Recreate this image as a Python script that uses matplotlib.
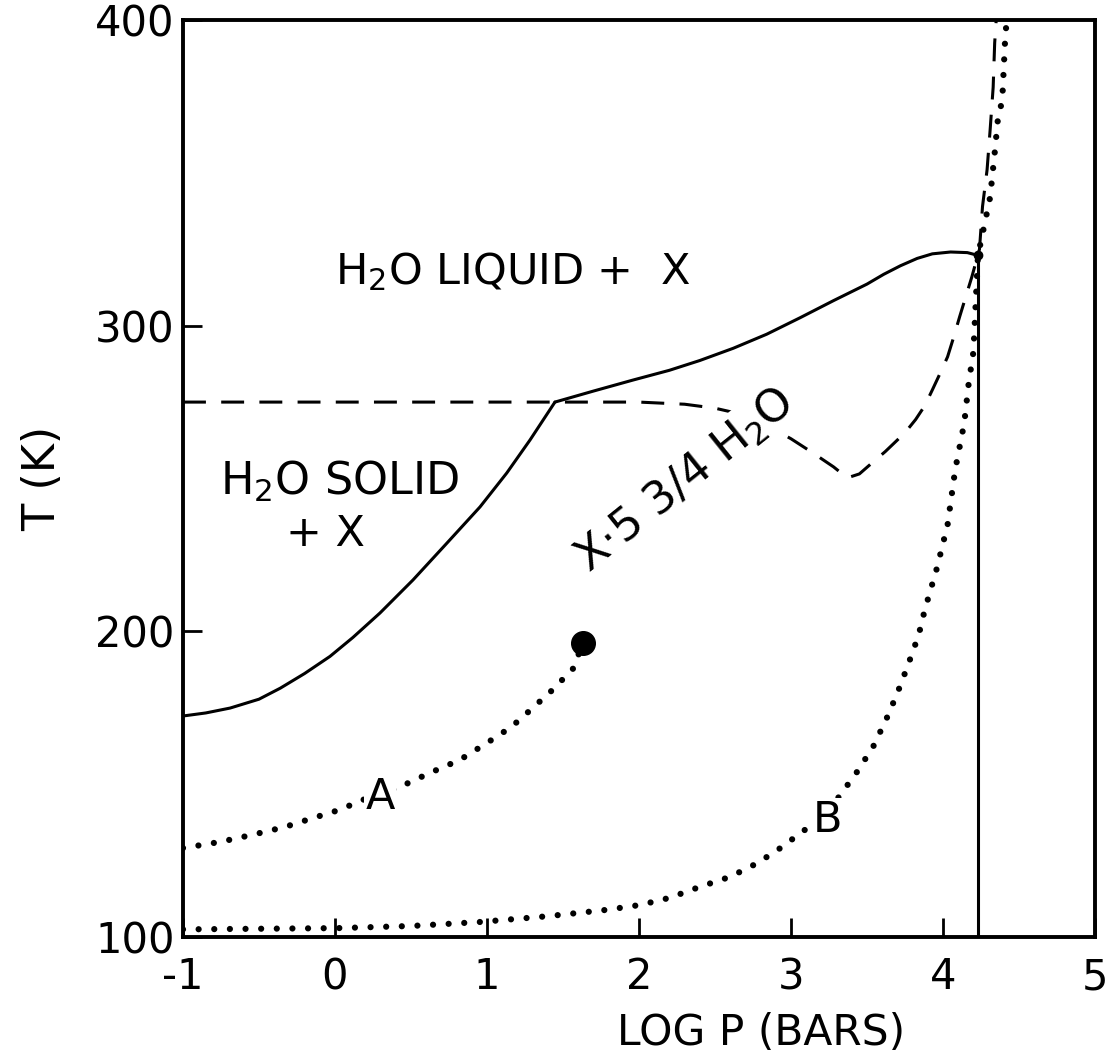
import matplotlib
matplotlib.use("Agg")
import matplotlib.pyplot as plt

plt.rcParams['font.family'] = ['DejaVu Sans']
plt.rcParams['mathtext.default'] = 'regular'

# ---- data (log P in bars, T in K) ----
ice_hydrate_P = [-1.0, -0.85, -0.69, -0.5, -0.36, -0.2, -0.033, 0.118, 0.296, 0.513, 0.737, 0.954, 1.13, 1.283, 1.447]
ice_hydrate_T = [172.3, 173.3, 174.9, 177.8, 181.4, 186.2, 191.8, 198.0, 206.0, 216.8, 228.9, 240.7, 251.8, 262.6, 275.0]

liquid_hydrate_P = [1.447, 1.70, 1.96, 2.20, 2.40, 2.62, 2.84, 3.06, 3.28, 3.50, 3.61, 3.72, 3.83, 3.93, 4.05, 4.16, 4.23]
liquid_hydrate_T = [275.0, 278.6, 282.2, 285.4, 288.6, 292.6, 297.2, 302.6, 308.2, 313.6, 316.8, 319.6, 322.0, 323.5, 324.1, 323.9, 323.0]

vertical_P = [4.23, 4.23]
vertical_T = [323.0, 100.0]

dashed_P = [-1.0, 2.0, 2.3, 2.5, 2.65, 2.8, 3.0, 3.14, 3.28, 3.37, 3.45, 3.54, 3.62, 3.70, 3.76, 3.82,
            3.88, 3.93, 3.98, 4.03, 4.07, 4.11, 4.15, 4.19, 4.24, 4.26, 4.29, 4.31, 4.33, 4.34, 4.35]
dashed_T = [275.0, 275.0, 274.3, 273.0, 271.3, 268.5, 263.0, 258.5, 253.8, 250.2, 251.5, 255.4, 258.8, 262.6, 265.6, 269.3,
            273.8, 279.0, 284.3, 289.8, 296.2, 303.0, 309.5, 316.0, 325.0, 339.0, 351.0, 364.0, 378.0, 392.5, 400.0]

curveA_P = [-1.0, -0.757, -0.546, -0.33, -0.14, 0.05, 0.145, 0.414, 0.625, 0.82, 1.0, 1.16, 1.30, 1.43, 1.57, 1.63]
curveA_T = [129.1, 131.1, 133.4, 136.0, 139.0, 141.9, 144.2, 148.8, 153.7, 157.9, 163.5, 168.7, 174.9, 180.8, 188.0, 196.2]

curveB_P = [-1.0, -0.5, 0.01, 0.5, 0.95, 1.4, 1.79, 2.01, 2.20, 2.40, 2.60, 2.78, 2.93, 3.09, 3.20, 3.31,
            3.43, 3.54, 3.63, 3.70, 3.77, 3.84, 3.88, 3.96, 4.03, 4.08, 4.14, 4.17, 4.20, 4.23, 4.26,
            4.31, 4.34, 4.36, 4.39, 4.41, 4.42]
curveB_T = [102.5, 102.7, 102.9, 103.6, 104.9, 106.8, 108.9, 110.5, 112.8, 116.4, 119.7, 124.2, 129.1, 135.0, 140.0, 145.5,
            153.7, 162.2, 171.6, 179.8, 189.0, 198.8, 207.0, 220.7, 234.8, 252.8, 268.2, 281.6, 291.4, 323.0, 330.0,
            342.0, 356.5, 367.0, 374.0, 395.0, 400.0]

endpoint_A = (1.63, 196.2)
junction = (4.23, 323.0)

x_ticks = [-1, 0, 1, 2, 3, 4, 5]
y_ticks = [100, 200, 300, 400]

# ---- figure ----
fig = plt.figure(figsize=(11.19, 10.58), dpi=100)
ax = fig.add_axes([183/1119, 1-937/1058, (1095-183)/1119, (937-20)/1058])

lw = 2.2
ax.plot(ice_hydrate_P, ice_hydrate_T, color='black', lw=lw, solid_capstyle='round', solid_joinstyle='round')
ax.plot(liquid_hydrate_P, liquid_hydrate_T, color='black', lw=lw, solid_capstyle='round', solid_joinstyle='round')
ax.plot(vertical_P, vertical_T, color='black', lw=lw)
ax.plot(dashed_P, dashed_T, color='black', lw=lw, linestyle=(0, (7.5, 5.0)), dash_capstyle='butt',
        dash_joinstyle='round')
ax.plot(curveA_P, curveA_T, color='black', lw=4.5, linestyle=(0, (0.001, 2.5)), dash_capstyle='round')
ax.plot(curveB_P, curveB_T, color='black', lw=4.5, linestyle=(0, (0.001, 2.5)), dash_capstyle='round')
ax.plot([endpoint_A[0]], [endpoint_A[1]], 'o', color='black', markersize=17)
ax.plot([junction[0]], [junction[1]], 'o', color='black', markersize=6)

ax.set_xlim(-1, 5)
ax.set_ylim(100, 400)
ax.set_xticks(x_ticks)
ax.set_yticks(y_ticks)
ax.set_xticklabels([str(v) for v in x_ticks])
ax.set_yticklabels([str(v) for v in y_ticks])
ax.tick_params(direction='in', length=14, width=2.0, labelsize=30, colors='black')
ax.tick_params(axis='x', pad=14)
ax.tick_params(axis='y', pad=6)
for s in ax.spines.values():
    s.set_linewidth(2.8)

ax.set_xlabel('LOG P (BARS)', fontsize=30.5, labelpad=8)
ax.xaxis.set_label_coords((761 - 183) / 912, -0.082)
ax.set_ylabel('T (K)', fontsize=32, labelpad=22)

fs = 31
ax.text(0.0, 317.6, 'H$_2$O LIQUID +  X', fontsize=fs, ha='left', va='center')
ax.text(-0.757, 248.9, 'H$_2$O SOLID', fontsize=32, ha='left', va='center')
ax.text(-0.06, 232.0, '+ X', fontsize=fs, ha='center', va='center')
ax.text(2.30, 249.5, 'X$\\cdot$5 3/4 H$_2$O', fontsize=32.5, ha='center', va='center', rotation=38.7,
        rotation_mode='anchor', bbox=dict(facecolor='white', edgecolor='none', pad=2))
ax.text(0.296, 145.8, 'A', fontsize=fs, ha='center', va='center',
        bbox=dict(facecolor='white', edgecolor='none', pad=1))
ax.text(3.24, 138.3, 'B', fontsize=fs, ha='center', va='center',
        bbox=dict(facecolor='white', edgecolor='none', pad=1))

fig.savefig('out.png', dpi=100)
